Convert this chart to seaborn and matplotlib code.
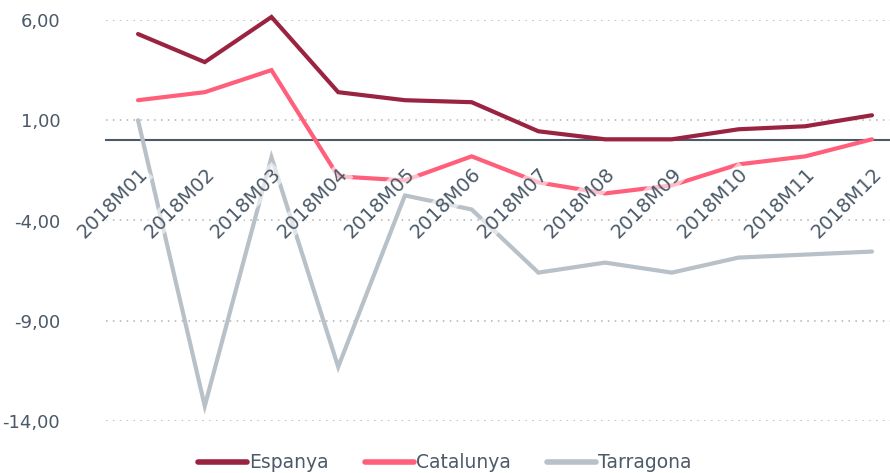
import matplotlib
matplotlib.use("Agg")
import matplotlib.pyplot as plt
import seaborn as sns
import pandas as pd
import numpy as np

months = ["2018M01", "2018M02", "2018M03", "2018M04", "2018M05", "2018M06",
          "2018M07", "2018M08", "2018M09", "2018M10", "2018M11", "2018M12"]
espanya = [5.3, 3.9, 6.15, 2.4, 2.0, 1.9, 0.45, 0.05, 0.05, 0.55, 0.7, 1.25]
catalunya = [2.0, 2.4, 3.5, -1.8, -2.0, -0.8, -2.1, -2.65, -2.25, -1.2, -0.8, 0.05]
tarragona = [1.0, -13.25, -0.85, -11.3, -2.75, -3.45, -6.6, -6.1, -6.6, -5.85, -5.7, -5.55]
series_names = ["Espanya", "Catalunya", "Tarragona"]
yticks = [6, 1, -4, -9, -14]

colors = ["#9b2342", "#ff5f7a", "#b8c0c8"]
text_color = "#4b5968"

sns.set_theme(style="white")
plt.rcParams["font.family"] = ["DejaVu Sans"]

df = pd.DataFrame({
    "x": list(range(len(months))) * 3,
    "value": espanya + catalunya + tarragona,
    "serie": [n for n in series_names for _ in months],
})

fig = plt.figure(figsize=(8.9, 4.73), dpi=100)
ax = fig.add_axes([106 / 890, 1 - 421 / 473, 1 - 106 / 890, (421 - 20) / 473])

sns.lineplot(data=df, x="x", y="value", hue="serie", hue_order=series_names,
             palette=colors, linewidth=3, ax=ax, legend=True, zorder=2)
for ln in ax.lines:
    ln.set_clip_on(False)
    ln.set_solid_joinstyle("miter")

ax.set_xlim(-0.48, 11.27)
ax.set_ylim(-14, 6)
ax.set_yticks(yticks)
ax.set_yticklabels([f"{v:.2f}".replace(".", ",") for v in yticks],
                   fontsize=13, color=text_color)
ax.tick_params(axis="y", length=0, pad=33)
ax.yaxis.grid(True, linestyle=(0, (1, 3.5)), color="#b0b0b0", linewidth=1.1)
ax.set_axisbelow(False)

for s in ["left", "right", "top"]:
    ax.spines[s].set_visible(False)
ax.spines["bottom"].set_position(("data", 0))
ax.spines["bottom"].set_color(text_color)
ax.spines["bottom"].set_linewidth(1.5)
ax.spines["bottom"].set_zorder(1)

ax.set_xticks(range(len(months)))
ax.set_xticklabels(months, rotation=45, ha="right", rotation_mode="anchor",
                   fontsize=14, color=text_color)
ax.tick_params(axis="x", length=0, pad=17)
for lab in ax.get_xticklabels():
    lab.set_bbox(dict(facecolor="white", alpha=0.6, edgecolor="none", pad=1))
ax.xaxis.set_zorder(3)
ax.yaxis.set_zorder(0.5)
ax.set_xlabel("")
ax.set_ylabel("")

handles, labels = ax.get_legend_handles_labels()
ax.get_legend().remove()
leg = fig.legend(handles, labels, loc="center", bbox_to_anchor=(0.5, 0.022),
                 ncol=3, frameon=False, fontsize=13.5, handlelength=2.6,
                 handletextpad=0.15, columnspacing=1.9, labelcolor=text_color)
for h in leg.get_lines():
    h.set_linewidth(4)

fig.savefig("out.png", dpi=100)
